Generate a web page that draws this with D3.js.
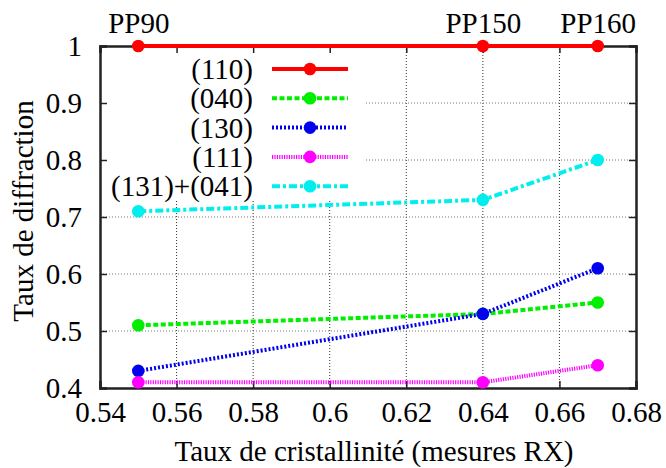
<!DOCTYPE html>
<html><head><meta charset="utf-8">
<script src="https://cdn.jsdelivr.net/npm/d3@7"></script>
</head><body style="margin:0">
<script>
const xValues = [0.55, 0.64, 0.67];
const topLabels = ["PP90", "PP150", "PP160"];
const seriesNames = ["(110)", "(040)", "(130)", "(111)", "(131)+(041)"];
const s110 = [1, 1, 1];
const s040 = [0.51, 0.53, 0.55];
const s130 = [0.43, 0.53, 0.61];
const s111 = [0.41, 0.41, 0.44];
const s131 = [0.71, 0.73, 0.80];
const xTicks = [0.54, 0.56, 0.58, 0.6, 0.62, 0.64, 0.66, 0.68];
const yTicks = [0.4, 0.5, 0.6, 0.7, 0.8, 0.9, 1];
const colors = ["#ff0000", "#00ee00", "#0000ee", "#ff00ff", "#00eeee"];
const dashes = [null, "5,2.5", "2,2", "1.2,1.2", "8,3,3,3"];
const seriesData = [s110, s040, s130, s111, s131];

const W = 666, H = 468;
const m = {l: 100, r: 30, t: 46, b: 80};
const svg = d3.select("body").append("svg").attr("width", W).attr("height", H)
  .style("display", "block").style("font-family", '"Times New Roman"');
const x = d3.scaleLinear().domain([0.54, 0.68]).range([m.l, W - m.r]);
const y = d3.scaleLinear().domain([0.4, 1]).range([H - m.b, m.t]);
const fs = 29;

function txt(sel) {
  return sel.style("font-family", '"Times New Roman"').style("font-size", fs + "px");
}

// grid
const grid = svg.append("g");
const keyRight = 366, keyBottom = 201;
xTicks.slice(1, -1).forEach(v => {
  const px = x(v);
  const y0 = px < keyRight ? keyBottom : y(1);
  grid.append("line").attr("x1", px).attr("x2", px).attr("y1", y0).attr("y2", y(0.4))
    .attr("stroke", "#333").attr("stroke-width", 1).attr("stroke-dasharray", "1,2");
});
yTicks.slice(1, -1).forEach(v => {
  const py = y(v);
  const x0 = py < keyBottom ? keyRight : x(0.54);
  grid.append("line").attr("x1", x0).attr("x2", x(0.68)).attr("y1", py).attr("y2", py)
    .attr("stroke", "#777").attr("stroke-width", 1).attr("stroke-dasharray", "1,2");
});

// axes
const ax = svg.append("g");
const bottom = ax.append("g").attr("transform", `translate(0,${y(0.4)})`)
  .call(d3.axisBottom(x).tickValues(xTicks).tickSize(-7).tickPadding(13).tickFormat(d3.format("")));
const left = ax.append("g").attr("transform", `translate(${x(0.54)},0)`)
  .call(d3.axisLeft(y).tickValues(yTicks).tickSize(-7).tickPadding(18).tickFormat(d3.format("")));
const right = ax.append("g").attr("transform", `translate(${x(0.68)},0)`)
  .call(d3.axisRight(y).tickValues(yTicks).tickSize(-7).tickFormat(""));
const topAx = ax.append("g").attr("transform", `translate(0,${y(1)})`)
  .call(d3.axisTop(x).tickValues(xTicks).tickSize(-7).tickFormat(""));
const top2 = ax.append("g").attr("transform", `translate(0,${y(1)})`)
  .call(d3.axisTop(x).tickValues(xValues).tickSize(0).tickPadding(13).tickFormat((d, i) => topLabels[i]));
top2.select(".domain").remove();
[bottom, left, right, topAx, top2].forEach(g => g.attr("font-family", "Times New Roman").attr("font-size", fs));
[bottom, left, right, topAx].forEach(g => {
  g.select(".domain").attr("stroke", "#222").attr("stroke-width", 2.5);
  g.selectAll(".tick line").attr("stroke", "#222").attr("stroke-width", 1.5);
});
ax.selectAll("text").call(txt).attr("fill", "#000");

// series
const line = d3.line().x((d, i) => x(xValues[i])).y(d => y(d));
const plot = svg.append("g");
seriesData.forEach((vals, k) => {
  plot.append("path").attr("d", line(vals)).attr("fill", "none")
    .attr("stroke", colors[k]).attr("stroke-width", 4)
    .attr("stroke-dasharray", dashes[k]);
  vals.forEach((v, i) => {
    plot.append("circle").attr("cx", x(xValues[i])).attr("cy", y(v)).attr("r", 6.3).attr("fill", colors[k]);
  });
});

// legend
const leg = svg.append("g");
seriesNames.forEach((n, k) => {
  const ly = 69 + k * 29.3;
  leg.append("text").attr("x", 253).attr("y", ly + 10).call(txt)
    .attr("text-anchor", "end").text(n);
  leg.append("line").attr("x1", 272).attr("x2", 348).attr("y1", ly).attr("y2", ly)
    .attr("stroke", colors[k]).attr("stroke-width", 4).attr("stroke-dasharray", dashes[k]);
  leg.append("circle").attr("cx", 310).attr("cy", ly).attr("r", 6.3).attr("fill", colors[k]);
});

// titles
svg.append("text").attr("x", 374).attr("y", 461).attr("text-anchor", "middle").call(txt)
  .text("Taux de cristallinité (mesures RX)");
svg.append("text").attr("transform", `translate(33,211) rotate(-90)`).call(txt)
  .attr("text-anchor", "middle").text("Taux de diffraction");
</script></body></html>
